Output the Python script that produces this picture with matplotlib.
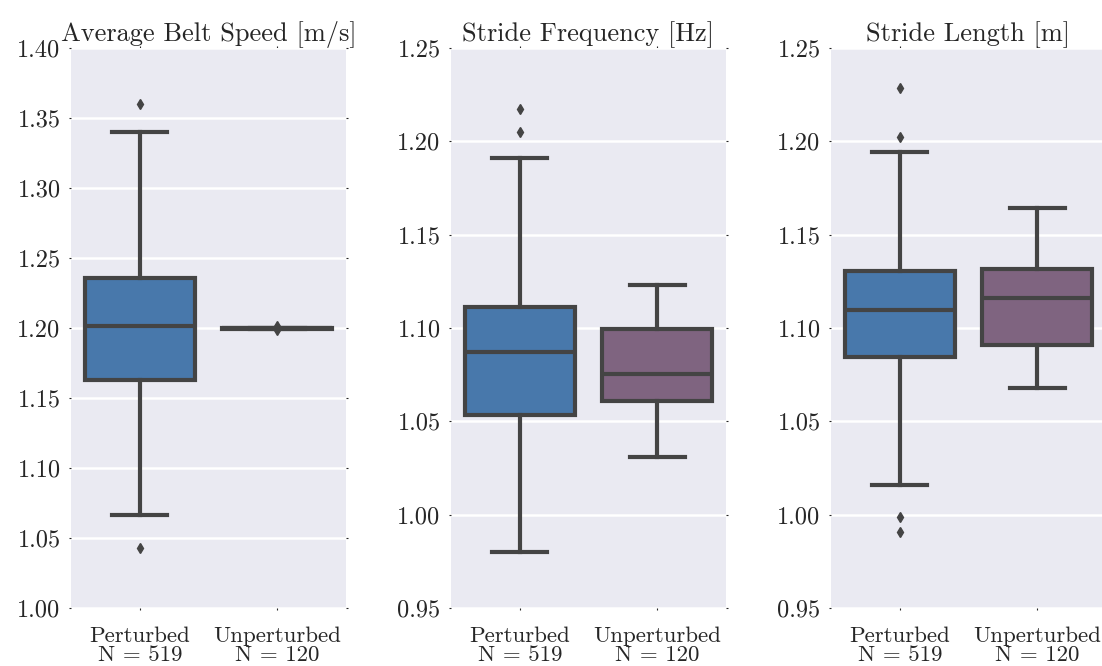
import numpy as np
import matplotlib
matplotlib.use("Agg")
import matplotlib.pyplot as plt

plt.rcParams['font.family'] = 'cmr10'
plt.rcParams['axes.unicode_minus'] = False
plt.rcParams['mathtext.fontset'] = 'cm'

groups = ['Perturbed\nN = 519', 'Unperturbed\nN = 120']
titles = ['Average Belt Speed [m/s]', 'Stride Frequency [Hz]', 'Stride Length [m]']
ylims = [(1.00, 1.40), (0.95, 1.25), (0.95, 1.25)]
yticks = [np.arange(1.00, 1.401, 0.05), np.arange(0.95, 1.251, 0.05), np.arange(0.95, 1.251, 0.05)]

# (whislo, q1, med, q3, whishi, fliers) per panel, per group
belt_speed = [
    (1.0664, 1.163, 1.2014, 1.236, 1.340, [1.3600, 1.0429]),
    (1.1993, 1.1995, 1.1997, 1.1999, 1.2002, [1.2013, 1.1983]),
]
stride_freq = [
    (0.9802, 1.0532, 1.0870, 1.1114, 1.1912, [1.2173, 1.2052]),
    (1.0309, 1.0607, 1.0754, 1.0995, 1.1232, []),
]
stride_len = [
    (1.0157, 1.0845, 1.1096, 1.1307, 1.1945, [1.2284, 1.2022, 0.9988, 0.9909]),
    (1.0679, 1.0907, 1.1159, 1.1318, 1.1643, []),
]
panels = [belt_speed, stride_freq, stride_len]

colors = ['#4878ab', '#7f6480']
edge = '#444444'
bg = '#eaeaf2'

fig = plt.figure(figsize=(11.02, 6.66), dpi=100)
W, H = 1102.0, 666.0
lefts = [71, 451, 831]

for i, data in enumerate(panels):
    ax = fig.add_axes([lefts[i] / W, 1 - 608 / H, 275 / W, 560 / H])
    ax.set_facecolor(bg)
    for s in ax.spines.values():
        s.set_visible(False)
    ax.set_axisbelow(True)
    ax.yaxis.grid(True, color='white', linewidth=1.8)

    stats = []
    for lo, q1, med, q3, hi, fl in data:
        stats.append(dict(whislo=lo, q1=q1, med=med, q3=q3, whishi=hi, fliers=fl))
    bp = ax.bxp(stats, positions=[0, 1], widths=0.8, patch_artist=True,
                boxprops=dict(edgecolor=edge, linewidth=3),
                medianprops=dict(color=edge, linewidth=3),
                whiskerprops=dict(color=edge, linewidth=3),
                capprops=dict(color=edge, linewidth=3),
                flierprops=dict(marker='d', markerfacecolor=edge, markeredgecolor=edge,
                                markersize=5))
    for patch, c in zip(bp['boxes'], colors):
        patch.set_facecolor(c)

    ax.set_xlim(-0.5, 1.5)
    ax.set_ylim(*ylims[i])
    ax.set_yticks(yticks[i])
    ax.set_yticklabels(['%.2f' % v for v in yticks[i]])
    ax.set_xticks([0, 1])
    ax.set_xticklabels(groups, linespacing=0.95)
    ax.tick_params(axis='both', which='both', length=1.5, width=0.8, color='#262626',
                   labelcolor='#262626', top=True, right=True)
    ax.tick_params(axis='y', labelsize=17.5, pad=6)
    ax.tick_params(axis='x', labelsize=16.5, pad=12)
    ax.set_title(titles[i], fontsize=19, color='#262626', pad=5)

fig.savefig('out.png', dpi=100)
